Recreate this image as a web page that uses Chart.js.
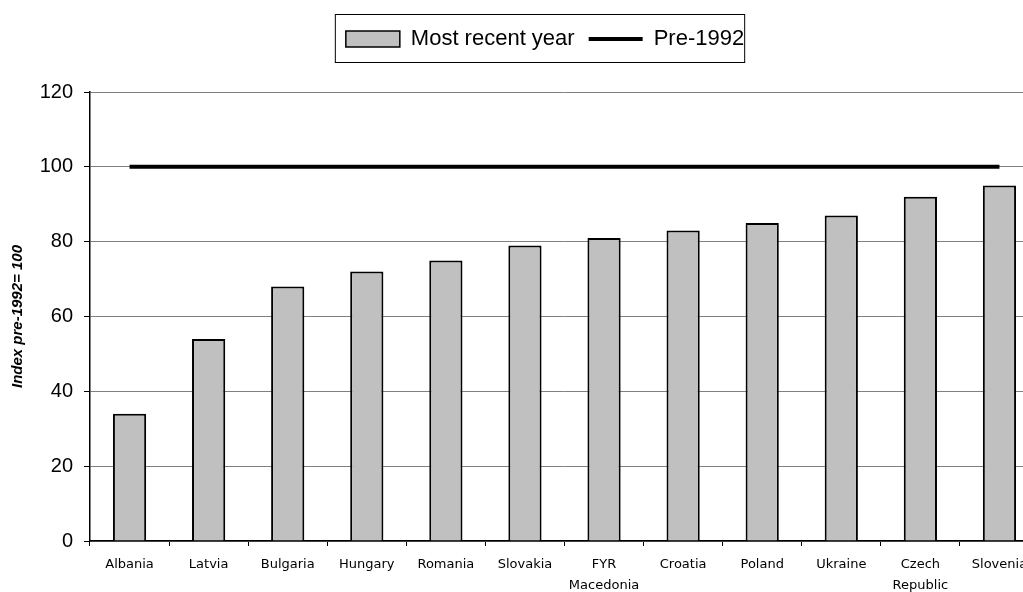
<!DOCTYPE html>
<html>
<head>
<meta charset="utf-8">
<title>Index pre-1992 = 100</title>
<script src="https://cdn.jsdelivr.net/npm/chart.js@4/dist/chart.umd.min.js"></script>
<style>
	html, body { margin: 0; padding: 0; background: #fff; overflow: hidden; }
	.chartWrap { position: relative; width: 1040px; height: 592px; }
</style>
</head>
<body>
<div class="chartWrap"><canvas id="canvasChart"></canvas></div>
<script>
var countries = ['Albania', 'Latvia', 'Bulgaria', 'Hungary', 'Romania', 'Slovakia', ['FYR', 'Macedonia'], 'Croatia', 'Poland', 'Ukraine', ['Czech', 'Republic'], 'Slovenia'];
var recentYear = [34, 54, 68, 72, 75, 79, 81, 83, 85, 87, 92, 95];
var pre1992 = [100, 100, 100, 100, 100, 100, 100, 100, 100, 100, 100, 100];
var yTicks = [0, 20, 40, 60, 80, 100, 120];

// legend border + spacing under the legend
var legendBox = {
	id: 'legendBox',
	beforeInit: function(chart) {
		var legend = chart.legend;
		var fit = legend.fit;
		legend.fit = function() {
			fit.call(this);
			this.boxHeight = this.height;
			this.height += 32;
		};
	},
	afterLayout: function(chart) {
		// legend is centred a bit right of the canvas middle
		chart.legend.left += 23;
		chart.legend.right += 23;
	},
	afterDraw: function(chart) {
		var legend = chart.legend;
		var boxes = legend.legendHitBoxes;
		if (!boxes || !boxes.length) return;
		var first = boxes[0];
		var last = boxes[boxes.length - 1];
		var ctx = chart.ctx;
		ctx.save();
		ctx.strokeStyle = '#000';
		ctx.lineWidth = 1;
		ctx.strokeRect(first.left - 10.5, legend.top + 0.5, last.left + last.width - first.left + 11, legend.boxHeight + 2);
		ctx.restore();
	}
};

var config = {
	type: 'bar',
	data: {
		labels: countries,
		datasets: [{
			type: 'bar',
			label: 'Most recent year',
			data: recentYear,
			backgroundColor: '#c0c0c0',
			borderColor: '#000',
			borderWidth: 2,
			barPercentage: 0.42,
			categoryPercentage: 1
		}, {
			type: 'line',
			label: 'Pre-1992',
			data: pre1992,
			borderColor: '#000',
			borderWidth: 4,
			pointRadius: 0,
			fill: false
		}]
	},
	options: {
		responsive: true,
		maintainAspectRatio: false,
		animation: false,
		layout: {
			padding: { top: 14, left: 5, right: 1, bottom: 0 }
		},
		plugins: {
			tooltip: { enabled: false },
			legend: {
				display: true,
				position: 'top',
				labels: {
					usePointStyle: true,
					pointStyleWidth: 54,
					boxHeight: 16,
					padding: 14,
					color: '#000',
					font: { family: "'Liberation Sans', Arial, sans-serif", size: 22 },
					generateLabels: function(chart) {
						return chart.data.datasets.map(function(ds, i) {
							var isLine = ds.type === 'line';
							return {
								text: ds.label,
								datasetIndex: i,
								pointStyle: isLine ? 'line' : 'rect',
								fillStyle: isLine ? '#000' : ds.backgroundColor,
								strokeStyle: '#000',
								lineWidth: isLine ? 4 : 1.5,
								fontColor: '#000',
								hidden: false
							};
						});
					}
				}
			}
		},
		scales: {
			x: {
				offset: true,
				grid: {
					display: true,
					drawOnChartArea: false,
					tickLength: 5,
					color: '#000',
					offset: true
				},
				border: { color: '#000', width: 1.5 },
				ticks: {
					color: '#000',
					padding: 8,
					maxRotation: 0,
					autoSkip: false,
					font: { family: "'DejaVu Sans', sans-serif", size: 13, lineHeight: 1.62 }
				},
				afterFit: function(scale) { scale.height = 51; }
			},
			y: {
				min: 0,
				max: 120,
				afterBuildTicks: function(scale) {
					scale.ticks = yTicks.map(function(v) { return { value: v }; });
				},
				grid: {
					color: '#808080',
					lineWidth: 1,
					tickLength: 6,
					tickColor: '#000'
				},
				border: { color: '#000', width: 1.5 },
				ticks: {
					color: '#000',
					padding: 11,
					font: { family: "'Liberation Sans', Arial, sans-serif", size: 20 }
				},
				title: {
					display: true,
					text: 'Index pre-1992= 100',
					color: '#000',
					padding: { top: 4, bottom: 0 },
					font: { family: "'Liberation Sans', Arial, sans-serif", size: 15, style: 'italic', weight: 'bold' }
				},
				afterFit: function(scale) { scale.width = 85; }
			}
		}
	},
	plugins: [legendBox]
};

window.myChart = new Chart(document.getElementById('canvasChart'), config);
</script>
</body>
</html>
